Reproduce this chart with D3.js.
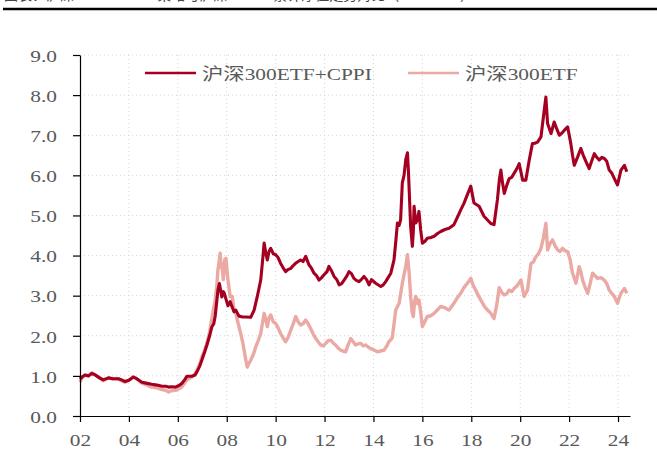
<!DOCTYPE html>
<html>
<head>
<meta charset="utf-8">
<script src="https://cdn.jsdelivr.net/npm/d3@7"></script>
<style>
  body { margin: 0; background: #fff; }
  svg { display: block; }
</style>
</head>
<body>
<div id="chart"></div>
<script>
// values, time in decimal years
var cppiT = [2002.00,2002.10,2002.20,2002.35,2002.48,2002.60,2002.68,2002.80,2002.95,2003.16,2003.35,2003.57,2003.70,2003.84,2004.00,2004.18,2004.32,2004.53,2004.70,2004.93,2005.15,2005.35,2005.50,2005.62,2005.75,2005.90,2006.05,2006.16,2006.30,2006.37,2006.57,2006.70,2006.78,2006.90,2006.98,2007.10,2007.19,2007.30,2007.39,2007.47,2007.53,2007.60,2007.64,2007.70,2007.73,2007.80,2007.86,2007.90,2008.00,2008.05,2008.14,2008.20,2008.30,2008.37,2008.50,2008.65,2008.78,2008.98,2009.12,2009.25,2009.39,2009.47,2009.53,2009.60,2009.66,2009.73,2009.80,2009.90,2010.00,2010.10,2010.20,2010.30,2010.41,2010.50,2010.62,2010.72,2010.82,2010.92,2011.02,2011.12,2011.23,2011.36,2011.45,2011.57,2011.67,2011.77,2011.88,2011.98,2012.10,2012.18,2012.30,2012.39,2012.50,2012.60,2012.70,2012.80,2012.92,2013.00,2013.10,2013.20,2013.30,2013.41,2013.50,2013.61,2013.72,2013.82,2013.92,2014.09,2014.30,2014.40,2014.50,2014.60,2014.71,2014.84,2014.92,2014.98,2015.05,2015.11,2015.18,2015.25,2015.32,2015.39,2015.43,2015.46,2015.52,2015.59,2015.63,2015.66,2015.73,2015.80,2015.86,2015.93,2016.00,2016.10,2016.20,2016.35,2016.48,2016.62,2016.75,2016.92,2017.09,2017.29,2017.43,2017.57,2017.70,2017.84,2017.98,2018.05,2018.11,2018.32,2018.52,2018.72,2018.80,2018.93,2019.07,2019.15,2019.21,2019.28,2019.35,2019.45,2019.55,2019.65,2019.75,2019.85,2019.96,2020.10,2020.23,2020.37,2020.50,2020.60,2020.71,2020.85,2020.95,2021.05,2021.12,2021.26,2021.39,2021.50,2021.60,2021.70,2021.80,2021.94,2022.07,2022.14,2022.21,2022.35,2022.48,2022.58,2022.69,2022.82,2022.92,2023.03,2023.13,2023.23,2023.34,2023.44,2023.54,2023.64,2023.75,2023.85,2023.98,2024.05,2024.12,2024.26,2024.36];
var cppiV = [0.92,0.98,1.02,1.00,1.06,1.03,1.00,0.95,0.90,0.95,0.93,0.93,0.90,0.86,0.89,0.97,0.93,0.84,0.82,0.79,0.77,0.74,0.74,0.72,0.73,0.72,0.76,0.81,0.92,0.99,0.99,1.02,1.10,1.25,1.39,1.60,1.77,2.00,2.22,2.30,2.50,2.90,3.14,3.30,3.20,2.97,3.10,3.06,2.85,2.75,2.85,2.75,2.60,2.64,2.49,2.47,2.47,2.46,2.64,2.98,3.39,3.90,4.31,4.05,3.89,4.10,4.18,4.05,4.02,3.95,3.81,3.70,3.60,3.65,3.68,3.75,3.81,3.85,3.89,3.85,3.98,3.77,3.70,3.56,3.50,3.39,3.45,3.52,3.60,3.73,3.60,3.48,3.40,3.27,3.30,3.39,3.50,3.60,3.55,3.43,3.38,3.35,3.40,3.48,3.40,3.27,3.40,3.31,3.23,3.27,3.35,3.45,3.56,3.89,4.40,4.81,4.75,4.89,5.81,6.00,6.39,6.56,6.10,5.64,4.73,4.23,4.60,5.23,4.81,4.90,5.10,4.64,4.31,4.35,4.43,4.45,4.48,4.55,4.60,4.65,4.68,4.77,4.95,5.14,5.30,5.52,5.73,5.50,5.31,5.23,4.98,4.85,4.80,4.77,5.40,5.90,6.13,5.80,5.55,5.75,5.92,5.95,6.05,6.15,6.29,5.88,5.88,6.38,6.79,6.80,6.83,6.96,7.46,7.95,7.29,7.04,7.33,7.15,7.00,7.05,7.12,7.21,6.79,6.50,6.25,6.46,6.67,6.50,6.34,6.17,6.35,6.54,6.45,6.38,6.45,6.42,6.35,6.13,6.05,5.92,5.76,5.95,6.13,6.25,6.09];

var etfT = [2002.00,2002.10,2002.20,2002.35,2002.48,2002.60,2002.68,2002.80,2002.95,2003.16,2003.35,2003.57,2003.70,2003.84,2004.00,2004.18,2004.32,2004.53,2004.70,2004.93,2005.15,2005.35,2005.50,2005.62,2005.75,2005.90,2006.05,2006.16,2006.30,2006.37,2006.57,2006.70,2006.78,2006.90,2006.98,2007.10,2007.19,2007.30,2007.39,2007.47,2007.53,2007.60,2007.64,2007.70,2007.73,2007.77,2007.80,2007.86,2007.92,2007.97,2008.03,2008.14,2008.23,2008.30,2008.37,2008.47,2008.57,2008.65,2008.71,2008.78,2008.84,2008.90,2008.98,2009.10,2009.19,2009.30,2009.39,2009.47,2009.53,2009.60,2009.66,2009.73,2009.80,2009.90,2010.00,2010.10,2010.20,2010.30,2010.41,2010.50,2010.62,2010.72,2010.82,2010.92,2011.02,2011.12,2011.23,2011.33,2011.43,2011.53,2011.64,2011.74,2011.84,2011.95,2012.05,2012.15,2012.25,2012.35,2012.45,2012.55,2012.66,2012.76,2012.86,2012.95,2013.07,2013.17,2013.27,2013.38,2013.48,2013.58,2013.68,2013.78,2013.89,2014.00,2014.16,2014.30,2014.43,2014.55,2014.63,2014.77,2014.91,2015.05,2015.18,2015.32,2015.39,2015.46,2015.52,2015.58,2015.63,2015.68,2015.73,2015.80,2015.86,2015.93,2016.00,2016.10,2016.20,2016.35,2016.48,2016.62,2016.75,2016.92,2017.09,2017.29,2017.43,2017.57,2017.70,2017.84,2017.98,2018.08,2018.18,2018.29,2018.39,2018.52,2018.66,2018.80,2018.93,2019.05,2019.14,2019.27,2019.35,2019.45,2019.55,2019.65,2019.75,2019.88,2020.03,2020.16,2020.30,2020.44,2020.55,2020.64,2020.75,2020.85,2020.95,2021.05,2021.12,2021.22,2021.32,2021.42,2021.53,2021.63,2021.73,2021.83,2021.94,2022.04,2022.14,2022.28,2022.41,2022.48,2022.55,2022.66,2022.76,2022.86,2022.96,2023.06,2023.16,2023.30,2023.44,2023.54,2023.64,2023.75,2023.85,2023.98,2024.05,2024.12,2024.26,2024.36];
var etfV = [0.85,0.97,1.02,1.00,1.08,1.03,1.00,0.95,0.88,0.95,0.92,0.93,0.88,0.84,0.89,0.98,0.93,0.82,0.78,0.72,0.70,0.66,0.64,0.60,0.63,0.64,0.68,0.72,0.84,0.90,0.97,1.05,1.14,1.30,1.47,1.65,1.81,2.10,2.43,2.70,2.89,3.30,3.64,3.90,4.06,3.70,3.80,3.40,3.90,3.93,3.50,2.97,2.98,2.60,2.56,2.30,2.06,1.85,1.64,1.40,1.22,1.30,1.39,1.55,1.73,1.90,2.06,2.35,2.56,2.40,2.23,2.45,2.52,2.35,2.31,2.20,2.06,1.95,1.85,1.95,2.14,2.30,2.48,2.35,2.27,2.30,2.39,2.30,2.18,2.05,1.93,1.85,1.77,1.75,1.81,1.88,1.89,1.82,1.77,1.70,1.64,1.62,1.60,1.75,1.93,1.85,1.77,1.80,1.81,1.75,1.77,1.72,1.68,1.65,1.60,1.62,1.64,1.75,1.85,1.95,2.64,2.81,3.31,3.73,4.02,3.56,2.98,2.60,2.48,2.85,2.98,2.80,2.89,2.60,2.23,2.35,2.48,2.50,2.56,2.65,2.73,2.70,2.64,2.81,2.95,3.06,3.20,3.31,3.43,3.25,3.14,3.00,2.89,2.75,2.64,2.56,2.43,2.80,3.20,3.06,3.02,3.05,3.14,3.10,3.18,3.25,3.39,2.98,3.14,3.80,3.85,3.97,4.05,4.18,4.45,4.80,4.14,4.30,4.39,4.25,4.14,4.10,4.18,4.12,4.10,3.90,3.56,3.31,3.72,3.60,3.39,3.20,3.06,3.30,3.56,3.50,3.43,3.45,3.39,3.30,3.14,3.05,2.98,2.81,2.95,3.06,3.18,3.06];

var yearTicks = [2002,2004,2006,2008,2010,2012,2014,2016,2018,2020,2022,2024];
var valueTicks = [0,1,2,3,4,5,6,7,8,9];
var seriesNames = ["沪深300ETF+CPPI", "沪深300ETF"];
var seriesColors = ["#a50021", "#eba9a4"];

var width = 657, height = 460;
var stretch = 1.22;   // glyphs in the reference are a bit wider than Times

var svg = d3.select("#chart").append("svg")
  .attr("width", width)
  .attr("height", height)
  .style("font-family", "'Liberation Serif','Noto Sans CJK SC',serif");

// title sits above the crop in the reference, only its lower edge shows
svg.append("text")
  .attr("x", 4).attr("y", -0.5)
  .attr("font-size", 14)
  .attr("fill", "#444")
  .text("图表：沪深300ETF+CPPI策略与沪深300ETF累计净值走势对比（2002-2024）");
svg.append("line")
  .attr("x1", 3).attr("x2", 657)
  .attr("y1", 9).attr("y2", 9)
  .attr("stroke", "#000").attr("stroke-width", 2.6);

var x = d3.scaleLinear().domain([2002, 2024.49]).range([80, 630]);
var y = d3.scaleLinear().domain([0, 9]).range([416, 55]);

// grid
svg.append("g").selectAll("line")
  .data(valueTicks.slice(1))
  .enter().append("line")
  .attr("x1", 80).attr("x2", 632)
  .attr("y1", function(d){ return y(d); })
  .attr("y2", function(d){ return y(d); })
  .attr("stroke", "#d4d4d4").attr("stroke-dasharray", "1,3");

svg.append("g").selectAll("line")
  .data(yearTicks.slice(1))
  .enter().append("line")
  .attr("x1", function(d){ return x(d); })
  .attr("x2", function(d){ return x(d); })
  .attr("y1", 55).attr("y2", 416)
  .attr("stroke", "#d4d4d4").attr("stroke-dasharray", "1,3");

// lines
var line = d3.line()
  .x(function(d){ return x(d[0]); })
  .y(function(d){ return y(d[1]); });

var etfData = etfT.map(function(t, i){ return [t, etfV[i]]; });
var cppiData = cppiT.map(function(t, i){ return [t, cppiV[i]]; });

svg.append("path")
  .datum(etfData)
  .attr("fill", "none")
  .attr("stroke", seriesColors[1])
  .attr("stroke-width", 3.4)
  .attr("stroke-linejoin", "round")
  .attr("d", line);

svg.append("path")
  .datum(cppiData)
  .attr("fill", "none")
  .attr("stroke", seriesColors[0])
  .attr("stroke-width", 3.1)
  .attr("stroke-linejoin", "round")
  .attr("d", line);

// axes
var yAxis = svg.append("g")
  .attr("transform", "translate(80,0)")
  .call(d3.axisLeft(y).tickValues(valueTicks).tickSize(7).tickSizeOuter(0)
    .tickFormat(d3.format(".1f")));
yAxis.select(".domain").attr("stroke", "#000").attr("stroke-width", 1.2);
yAxis.selectAll(".tick line").attr("stroke", "#000").attr("stroke-width", 1.2);
yAxis.selectAll("text")
  .attr("x", -23 / stretch).attr("dy", "0.36em")
  .attr("transform", "scale(" + stretch + ",1)")
  .attr("font-size", 17.5)
  .attr("font-family", "'Liberation Serif',serif")
  .attr("fill", "#595959");

var xAxis = svg.append("g")
  .attr("transform", "translate(0,416)")
  .call(d3.axisBottom(x).tickValues(yearTicks).tickSize(6).tickSizeOuter(0)
    .tickFormat(function(d){ return d3.format("02d")(d % 100); }));
xAxis.select(".domain").attr("stroke", "#000").attr("stroke-width", 1.2);
xAxis.selectAll(".tick line").attr("stroke", "#000").attr("stroke-width", 1.2);
xAxis.selectAll("text")
  .attr("x", 0).attr("y", 30).attr("dy", 0)
  .attr("transform", "scale(" + stretch + ",1)")
  .attr("font-size", 17.5)
  .attr("font-family", "'Liberation Serif',serif")
  .attr("fill", "#595959");

// legend
var legendX = [145, 408];
var legend = svg.append("g");
seriesNames.forEach(function(name, i){
  legend.append("line")
    .attr("x1", legendX[i]).attr("x2", legendX[i] + 51)
    .attr("y1", 73).attr("y2", 73)
    .attr("stroke", seriesColors[i]).attr("stroke-width", 2.6);
  legend.append("text")
    .attr("transform", "translate(" + (legendX[i] + 57) + ",80) scale(" + stretch + ",1)")
    .attr("font-size", 17.5)
    .attr("fill", "#595959")
    .text(name);
});
</script>
</body>
</html>
